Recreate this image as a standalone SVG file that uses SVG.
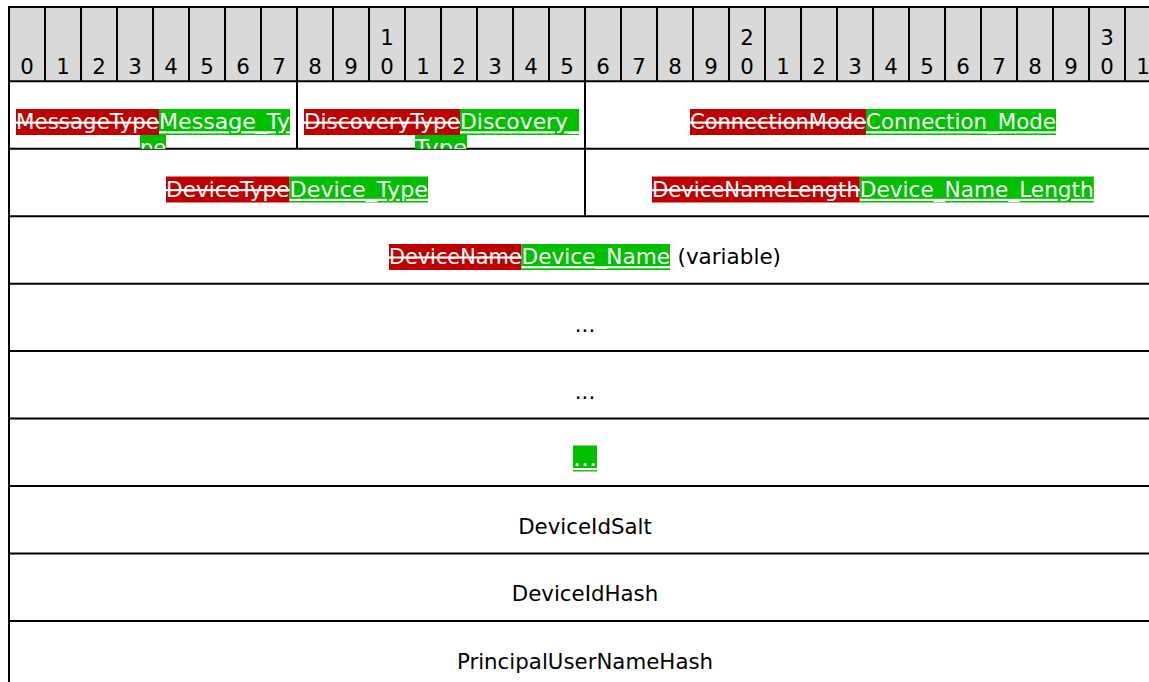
<svg xmlns="http://www.w3.org/2000/svg" width="1149" height="682" viewBox="0 0 1149 682">
<style>
.t{font-family:"DejaVu Sans",Verdana,sans-serif;font-size:21.33px;fill:#000}
.m{text-anchor:middle}
.del{fill:#fff;text-decoration:line-through}
.ins{fill:#fff;text-decoration:underline}
.bd{fill:#c00000}
.bi{fill:#00c000}
.ln{stroke:#000;stroke-width:2;fill:none}
.hdr{fill:#d9d9d9}
</style>
<defs>
<clipPath id="c1"><rect x="9" y="81.3" width="288" height="67.45"/></clipPath>
<clipPath id="c2"><rect x="297" y="81.3" width="288" height="67.45"/></clipPath>
</defs>
<rect width="1149" height="682" fill="#fff"/>
<g id="header">
<rect class="hdr" x="9" y="7" width="1152" height="74.3"/>
<g class="t m">
<text x="27" y="74">0</text><text x="63" y="74">1</text><text x="99" y="74">2</text><text x="135" y="74">3</text>
<text x="171" y="74">4</text><text x="207" y="74">5</text><text x="243" y="74">6</text><text x="279" y="74">7</text>
<text x="315" y="74">8</text><text x="351" y="74">9</text>
<text x="387" y="45">1</text><text x="387" y="74">0</text>
<text x="423" y="74">1</text><text x="459" y="74">2</text><text x="495" y="74">3</text><text x="531" y="74">4</text>
<text x="567" y="74">5</text><text x="603" y="74">6</text><text x="639" y="74">7</text><text x="675" y="74">8</text>
<text x="711" y="74">9</text>
<text x="747" y="45">2</text><text x="747" y="74">0</text>
<text x="783" y="74">1</text><text x="819" y="74">2</text><text x="855" y="74">3</text><text x="891" y="74">4</text>
<text x="927" y="74">5</text><text x="963" y="74">6</text><text x="999" y="74">7</text><text x="1035" y="74">8</text>
<text x="1071" y="74">9</text>
<text x="1107" y="45">3</text><text x="1107" y="74">0</text>
<text x="1143" y="74">1</text>
</g>
</g>
<g id="grid">
<path class="ln" d="M9 7H1161M9 81.3H1161M9 148.75H1161M9 216.2H1161M9 283.65H1161M9 351.1H1161M9 418.55H1161M9 486H1161M9 553.45H1161M9 620.9H1161"/>
<path class="ln" d="M9 6V682M297 81.3V148.75M585 81.3V216.2"/>
<path class="ln" d="M45 7V81.3M81 7V81.3M117 7V81.3M153 7V81.3M189 7V81.3M225 7V81.3M261 7V81.3M297 7V81.3M333 7V81.3M369 7V81.3M405 7V81.3M441 7V81.3M477 7V81.3M513 7V81.3M549 7V81.3M585 7V81.3M621 7V81.3M657 7V81.3M693 7V81.3M729 7V81.3M765 7V81.3M801 7V81.3M837 7V81.3M873 7V81.3M909 7V81.3M945 7V81.3M981 7V81.3M1017 7V81.3M1053 7V81.3M1089 7V81.3M1125 7V81.3"/>
</g>
<g id="connectors"/>
<g id="field-message-type" clip-path="url(#c1)">
<rect class="bd" x="16" y="109" width="143" height="26"/>
<rect class="bi" x="159" y="109" width="131" height="26"/>
<rect class="bi" x="140" y="135" width="26" height="26"/>
<text class="t del" x="16" y="129.3" textLength="143" lengthAdjust="spacingAndGlyphs">MessageType</text>
<text class="t ins" x="159" y="129.3" textLength="131" lengthAdjust="spacingAndGlyphs">Message_Ty</text>
<text class="t ins" x="140" y="155.3" textLength="26" lengthAdjust="spacingAndGlyphs">pe</text>
</g>
<g id="field-discovery-type" clip-path="url(#c2)">
<rect class="bd" x="304" y="109" width="156" height="26"/>
<rect class="bi" x="460" y="109" width="119" height="26"/>
<rect class="bi" x="415" y="135" width="52" height="26"/>
<text class="t del" x="304" y="129.3" textLength="156" lengthAdjust="spacingAndGlyphs">DiscoveryType</text>
<text class="t ins" x="460" y="129.3" textLength="119" lengthAdjust="spacingAndGlyphs">Discovery_</text>
<text class="t ins" x="415" y="155.3" textLength="52" lengthAdjust="spacingAndGlyphs">Type</text>
</g>
<g id="field-connection-mode">
<rect class="bd" x="690" y="109" width="176" height="26"/>
<rect class="bi" x="866" y="109" width="190" height="26"/>
<text class="t del" x="690" y="129.3" textLength="176" lengthAdjust="spacingAndGlyphs">ConnectionMode</text>
<text class="t ins" x="866" y="129.3" textLength="190" lengthAdjust="spacingAndGlyphs">Connection_Mode</text>
</g>
<g id="field-device-type">
<rect class="bd" x="166" y="176.5" width="123.6" height="26"/>
<rect class="bi" x="289.6" y="176.5" width="138.4" height="26"/>
<text class="t del" x="166" y="196.8" textLength="123.6" lengthAdjust="spacingAndGlyphs">DeviceType</text>
<text class="t ins" x="289.6" y="196.8" textLength="138.4" lengthAdjust="spacingAndGlyphs">Device_Type</text>
</g>
<g id="field-device-name-length">
<rect class="bd" x="652" y="176.5" width="207.8" height="26"/>
<rect class="bi" x="859.8" y="176.5" width="234" height="26"/>
<text class="t del" x="652" y="196.8" textLength="207.8" lengthAdjust="spacingAndGlyphs">DeviceNameLength</text>
<text class="t ins" x="859.8" y="196.8" textLength="234" lengthAdjust="spacingAndGlyphs">Device_Name_Length</text>
</g>
<g id="field-device-name">
<rect class="bd" x="389" y="244" width="132.5" height="26"/>
<rect class="bi" x="521.5" y="244" width="148.5" height="26"/>
<text class="t del" x="389" y="264.2" textLength="132.5" lengthAdjust="spacingAndGlyphs">DeviceName</text>
<text class="t ins" x="521.5" y="264.2" textLength="148.5" lengthAdjust="spacingAndGlyphs">Device_Name</text>
<text class="t" x="677.5" y="264.2" textLength="103.5" lengthAdjust="spacingAndGlyphs">(variable)</text>
</g>
<g id="field-ellipsis-1"><text class="t m" x="585" y="331.6">...</text></g>
<g id="field-ellipsis-2"><text class="t m" x="585" y="399.1">...</text></g>
<g id="field-ellipsis-3">
<rect class="bi" x="573" y="445.5" width="24" height="26"/>
<text class="t ins" x="573" y="466" textLength="24" lengthAdjust="spacingAndGlyphs">...</text>
</g>
<g id="field-device-id-salt"><text class="t m" x="585" y="534">DeviceIdSalt</text></g>
<g id="field-device-id-hash"><text class="t m" x="585" y="601.4">DeviceIdHash</text></g>
<g id="field-principal-user-name-hash"><text class="t m" x="585" y="668.9">PrincipalUserNameHash</text></g>
</svg>
